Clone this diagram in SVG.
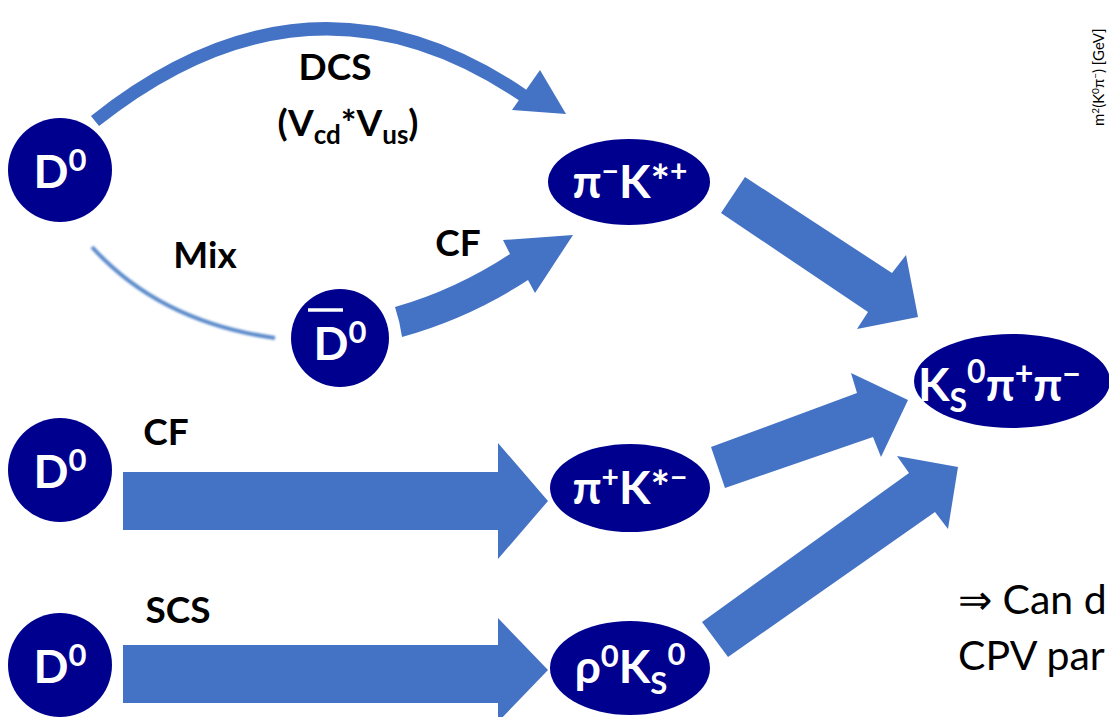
<svg xmlns="http://www.w3.org/2000/svg" width="1109" height="717" viewBox="0 0 1109 717">
<style>
.node{fill:#00008F}
.nt{fill:#fff;font-family:Lato,"Liberation Sans",sans-serif;font-weight:bold;font-size:46px}
.lbl{fill:#000;font-family:Lato,"Liberation Sans",sans-serif;font-weight:bold;font-size:37px}
.arr{fill:#4472C4}
.note{fill:#000;font-family:Lato,"Open Sans",sans-serif;font-size:41px}
</style>
<defs>
<filter id="soft" x="-10%" y="-20%" width="120%" height="140%"><feGaussianBlur stdDeviation="1"/></filter>
</defs>
<rect width="1109" height="717" fill="#fff"/>
<g id="connectors">
  <path d="M95,121 Q310,-50 524,96" fill="none" stroke="#4472C4" stroke-width="13"/>
  <polygon class="arr" points="512,110 540,70 566,114"/>
  <path d="M92,247 Q160,322 275,338" fill="none" stroke="#5B8BCB" stroke-width="4" filter="url(#soft)"/>
  <path class="arr" d="M395,307 Q455,290 510,254 L503,240 L573,235 L535,293 L528,280 Q470,318 402,337 Q400,322 395,307 Z"/>
  <polygon class="arr" points="745,177 892,273 906,255 918,317 857,329 868,312 721,213"/>
  <polygon class="arr" points="711,447 857,393 851,373 908,400 881,457 873,437 725,488"/>
  <polygon class="arr" points="702,622 909,473 897,456 958,467 948,529 935,512 728,657"/>
  <polygon class="arr" points="123,472 498,472 498,443 548,501 498,559 498,530 123,530"/>
  <polygon class="arr" points="123,645 498,645 498,618 548,670 498,722 498,703 123,703"/>
</g>
<g id="n_d0_top"><circle class="node" cx="60" cy="170" r="52"/><text class="nt" x="60" y="188" text-anchor="middle" font-size="48">D<tspan dy="-17" font-size="31">0</tspan></text></g>
<g id="n_d0bar"><circle class="node" cx="340" cy="338" r="49"/><line x1="308" y1="310" x2="343" y2="310" stroke="#fff" stroke-width="3.5"/><text class="nt" x="340" y="360" text-anchor="middle" font-size="48">D<tspan dy="-17" font-size="31">0</tspan></text></g>
<g id="n_pimKstp"><ellipse class="node" cx="629" cy="182" rx="81" ry="43"/><text class="nt" x="630" y="198" text-anchor="middle">π<tspan dy="-16" font-size="30">−</tspan><tspan dy="16">K*</tspan><tspan dy="-16" font-size="30">+</tspan></text></g>
<g id="n_ks"><ellipse class="node" cx="1012" cy="381" rx="98" ry="47"/><text class="nt" x="918" y="401" font-size="48">K<tspan dy="11" font-size="32">S</tspan><tspan dy="-29" font-size="32">0</tspan><tspan dy="18">π</tspan><tspan dy="-16" font-size="32">+</tspan><tspan dy="16">π</tspan><tspan dy="-16" font-size="32">−</tspan></text></g>
<g id="n_pipKstm"><ellipse class="node" cx="630" cy="488" rx="80" ry="44"/><text class="nt" x="630" y="504" text-anchor="middle">π<tspan dy="-16" font-size="30">+</tspan><tspan dy="16">K*</tspan><tspan dy="-16" font-size="30">−</tspan></text></g>
<g id="n_rhoks"><ellipse class="node" cx="630" cy="668" rx="80" ry="47"/><text class="nt" x="630" y="683" text-anchor="middle">ρ<tspan dy="-16" font-size="31">0</tspan><tspan dy="16">K</tspan><tspan dy="11" font-size="31">S</tspan><tspan dy="-29" font-size="31">0</tspan></text></g>
<g id="n_d0_mid"><circle class="node" cx="60" cy="470" r="52"/><text class="nt" x="60" y="488" text-anchor="middle" font-size="48">D<tspan dy="-17" font-size="31">0</tspan></text></g>
<g id="n_d0_bot"><circle class="node" cx="60" cy="665" r="52"/><text class="nt" x="60" y="683" text-anchor="middle" font-size="48">D<tspan dy="-17" font-size="31">0</tspan></text></g>
<g id="labels">
  <text class="lbl" x="335" y="80" text-anchor="middle">DCS</text>
  <text class="lbl" x="348" y="136" text-anchor="middle">(V<tspan dy="8" font-size="26">cd</tspan><tspan dy="-8">*V</tspan><tspan dy="8" font-size="26">us</tspan><tspan dy="-8">)</tspan></text>
  <text class="lbl" x="205" y="268" text-anchor="middle">Mix</text>
  <text class="lbl" x="458" y="256" text-anchor="middle">CF</text>
  <text class="lbl" x="166" y="445" text-anchor="middle">CF</text>
  <text class="lbl" x="178" y="623" text-anchor="middle">SCS</text>
  <text class="note" x="958" y="614">⇒ Can d</text>
  <text class="note" x="958" y="670">CPV par</text>
  <text x="1104" y="126" transform="rotate(-90 1104 126)" font-family="Lato,'Liberation Sans',sans-serif" font-size="15" fill="#000">m<tspan dy="-5" font-size="10">2</tspan><tspan dy="5">(K</tspan><tspan dy="-5" font-size="10">0</tspan><tspan dy="5">π</tspan><tspan dy="-5" font-size="10">−</tspan><tspan dy="5">) [GeV]</tspan></text>
</g>
</svg>
